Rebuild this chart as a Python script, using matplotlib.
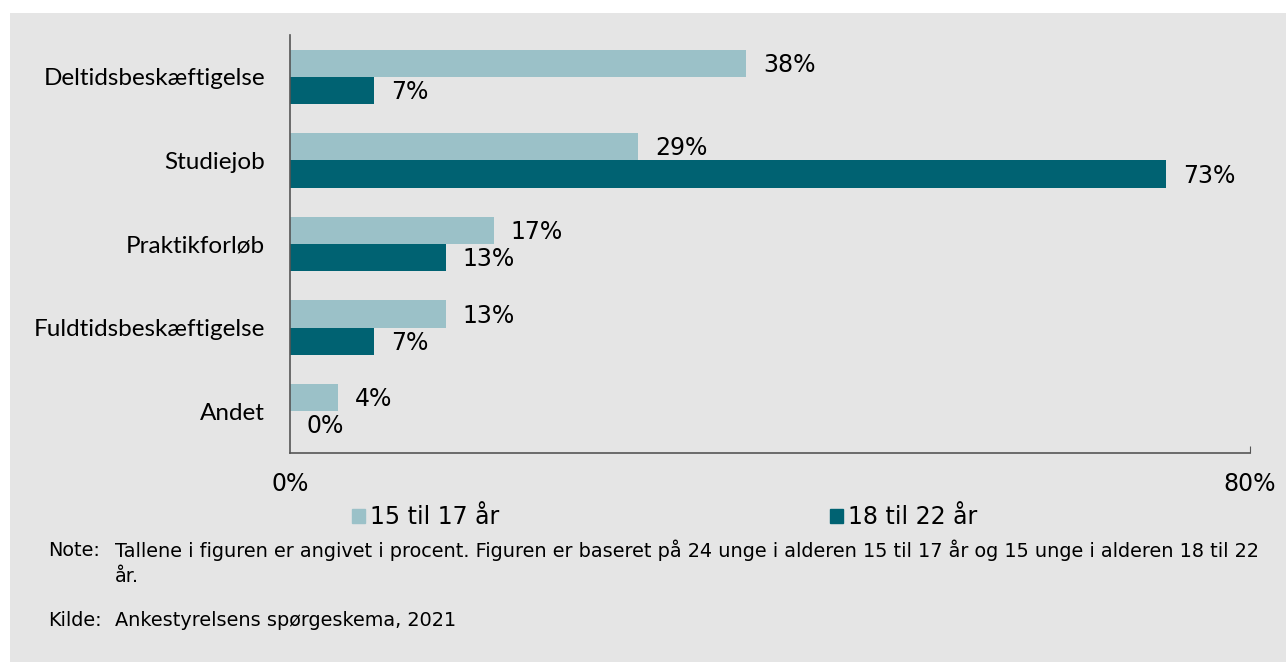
import matplotlib.pyplot as plt
from matplotlib.patches import Rectangle

categories = ["Deltidsbeskæftigelse", "Studiejob", "Praktikforløb",
              "Fuldtidsbeskæftigelse", "Andet"]
young = [38, 29, 17, 13, 4]    # 15 til 17 år
older = [7, 73, 13, 7, 0]      # 18 til 22 år
series_names = ["15 til 17 år", "18 til 22 år"]

light = "#9bc1c8"
dark = "#006272"
bg = "#e5e5e5"

plt.rcParams['font.family'] = ['DejaVu Sans']

W, H = 1286, 662
fig = plt.figure(figsize=(W / 100, H / 100), dpi=100)
fig.patch.set_facecolor("white")
# grey panel
fig.patches.append(Rectangle((10 / W, 0), 1 - 10 / W, (H - 13) / H,
                             transform=fig.transFigure, facecolor=bg,
                             edgecolor="none", zorder=-1))

ax = fig.add_axes([290 / W, 1 - 453 / H, 960 / W, 418 / H])
ax.set_facecolor(bg)

bh = 0.325
ys = [i + 0.5 for i in range(len(categories))]
ax.barh([y - bh / 2 for y in ys], young, height=bh, color=light)
ax.barh([y + bh / 2 for y in ys], older, height=bh, color=dark)

fs = 17
for y, a, b in zip(ys, young, older):
    ax.text(a + 1.4, y - bh / 2 + 0.02, f"{a}%", va="center", ha="left", fontsize=fs)
    ax.text(b + 1.4, y + bh / 2 + 0.02, f"{b}%", va="center", ha="left", fontsize=fs)

ax.set_xlim(0, 80)
ax.set_ylim(len(categories), 0)
ax.set_yticks(ys)
ax.set_yticklabels(categories, fontsize=17.5, family=["Lato", "DejaVu Sans"])
ax.tick_params(axis="y", length=0, pad=18)
ax.set_xticks([0, 80])
ax.set_xticklabels(["0%", "80%"], fontsize=fs)
ax.tick_params(axis="x", direction="in", length=5, pad=14, color="#555555")
for s in ["top", "right"]:
    ax.spines[s].set_visible(False)
for s in ["left", "bottom"]:
    ax.spines[s].set_color("#555555")
    ax.spines[s].set_linewidth(1.2)
ax.xaxis.get_major_ticks()[0].tick1line.set_visible(False)

handles = [Rectangle((0, 0), 1, 1, color=light), Rectangle((0, 0), 1, 1, color=dark)]
fig.legend(handles, series_names, loc="center left",
           bbox_to_anchor=(352 / W, 1 - 517 / H), ncol=2, frameon=False,
           fontsize=fs, handlelength=0.55, handleheight=0.55, handletextpad=0.22,
           columnspacing=14.0, borderaxespad=0, borderpad=0)

nfs = 13.9
fig.text(48 / W, 1 - 550 / H, "Note:", fontsize=nfs, va="center")
fig.text(115 / W, 1 - 550 / H,
         "Tallene i figuren er angivet i procent. Figuren er baseret på 24 unge i alderen 15 til 17 år og 15 unge i alderen 18 til 22",
         fontsize=nfs, va="center")
fig.text(115 / W, 1 - 577 / H, "år.", fontsize=nfs, va="center")
fig.text(48 / W, 1 - 620 / H, "Kilde:", fontsize=nfs, va="center")
fig.text(115 / W, 1 - 620 / H, "Ankestyrelsens spørgeskema, 2021",
         fontsize=nfs, va="center")

fig.savefig("out.png", dpi=100, facecolor=fig.get_facecolor())
